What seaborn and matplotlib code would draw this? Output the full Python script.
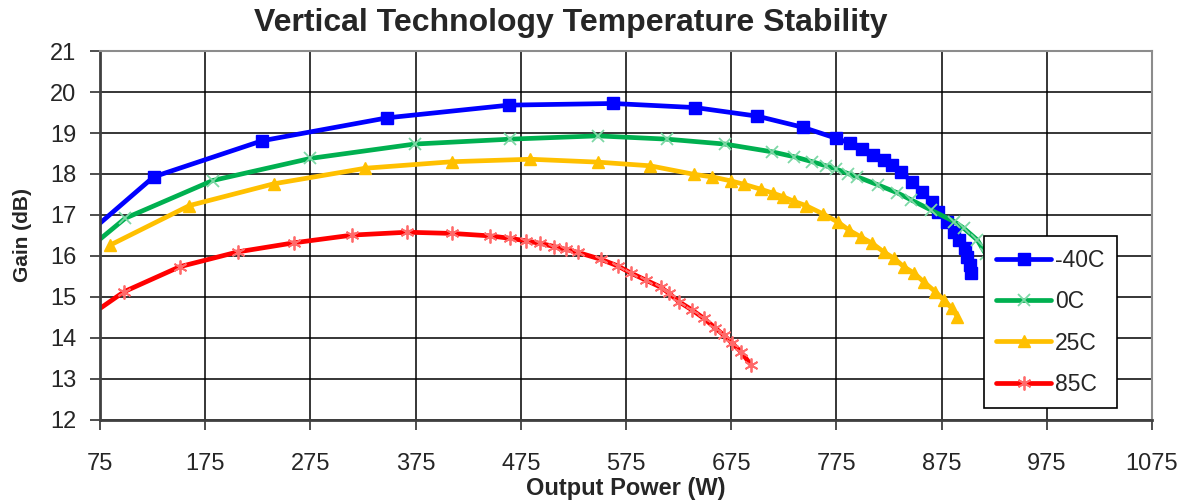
import matplotlib
matplotlib.use("Agg")
import matplotlib.pyplot as plt
import seaborn as sns
import pandas as pd

# ---- data ----
w_m40 = [75, 126, 229, 348, 464, 563, 641, 700, 743, 775, 788, 799, 810, 820, 828, 836,
         847, 856, 866, 872, 880, 887, 892, 897, 899, 902, 903]
g_m40 = [16.8, 17.93, 18.81, 19.37, 19.68, 19.72, 19.62, 19.41, 19.14, 18.87, 18.75, 18.60,
         18.46, 18.34, 18.22, 18.06, 17.81, 17.57, 17.32, 17.08, 16.84, 16.59, 16.39, 16.19,
         15.98, 15.78, 15.58]

w_0 = [75, 99, 182, 275, 374, 465, 548, 614, 669, 714, 735, 752, 765, 775, 786, 795, 815,
       833, 846, 865, 887, 896, 909, 917]
g_0 = [16.41, 16.92, 17.84, 18.38, 18.73, 18.85, 18.93, 18.85, 18.73, 18.54, 18.42, 18.30,
       18.20, 18.12, 18.01, 17.93, 17.73, 17.54, 17.37, 17.12, 16.84, 16.68, 16.39, 16.05]

w_25 = [85, 160, 240, 327, 410, 484, 548, 598, 640, 657, 675, 687, 703, 715, 724, 735, 746,
        762, 777, 787, 798, 809, 820, 830, 839, 849, 858, 869, 877, 885, 890]
g_25 = [16.27, 17.23, 17.76, 18.14, 18.30, 18.36, 18.29, 18.20, 17.99, 17.93, 17.83, 17.75,
        17.63, 17.53, 17.45, 17.33, 17.23, 17.03, 16.82, 16.63, 16.47, 16.31, 16.10, 15.94,
        15.74, 15.58, 15.37, 15.13, 14.93, 14.72, 14.52]

w_85 = [75, 98, 151, 206, 259, 315, 367, 410, 446, 465, 480, 493, 507, 518, 529, 551, 567,
        580, 594, 608, 616, 625, 638, 649, 660, 668, 676, 684, 694]
g_85 = [14.72, 15.13, 15.74, 16.10, 16.32, 16.51, 16.58, 16.55, 16.49, 16.43, 16.37, 16.31,
        16.23, 16.16, 16.09, 15.92, 15.76, 15.58, 15.41, 15.24, 15.09, 14.89, 14.68, 14.48,
        14.24, 14.07, 13.87, 13.67, 13.34]

series_names = ["-40C", "0C", "25C", "85C"]
x_ticks = list(range(75, 1076, 100))
y_ticks = list(range(12, 22))

# ---- style ----
sns.set_style("white")
plt.rcParams["font.family"] = ["Liberation Sans", "DejaVu Sans"]

fig = plt.figure(figsize=(11.86, 5.04), dpi=100)
ax = fig.add_axes([0.0843, 0.1667, 0.8870, 0.7321])

styles = [
    dict(color="#0000FF", marker="s", markersize=8, mfc="#0000FF", mec="#0000FF", mew=1),
    dict(color="#00B050", marker="x", markersize=9, mfc="none", mec="#7ED8A6", mew=1.3),
    dict(color="#FFC000", marker="^", markersize=9, mfc="#FFC000", mec="#FFC000", mew=1),
    dict(color="#FF0000", marker=(6, 2, 0), markersize=10, mfc="none", mec="#FF6A6A", mew=1.3),
]
data = [(w_m40, g_m40, 1), (w_0, g_0, 1), (w_25, g_25, 0), (w_85, g_85, 1)]

for name, (w, g, start), st in zip(series_names, data, styles):
    df = pd.DataFrame({"W": w, "G": g})
    sns.lineplot(data=df, x="W", y="G", ax=ax, sort=False, estimator=None,
                 lw=3.4, label=name, markevery=list(range(start, len(w))),
                 solid_joinstyle="round", **st)

ax.set_xlim(75, 1075)
ax.set_ylim(12, 21)
ax.set_xticks(x_ticks)
ax.set_yticks(y_ticks)
ax.grid(True, color="black", lw=1.1)
ax.set_axisbelow(True)

for side in ["top", "right"]:
    ax.spines[side].set_color("#8C8C8C")
    ax.spines[side].set_linewidth(1.5)
for side in ["left", "bottom"]:
    ax.spines[side].set_color("#404040")
    ax.spines[side].set_linewidth(2)
ax.tick_params(axis="both", direction="out", length=7, width=1.3, color="#404040",
               labelsize=17, bottom=True, left=True)
ax.tick_params(axis="x", pad=17)
ax.tick_params(axis="y", pad=10)

ax.set_xlabel("Output Power (W)", fontsize=17, fontweight="bold", labelpad=1)
ax.set_ylabel("Gain (dB)", fontsize=15, fontweight="bold", labelpad=13)
fig.suptitle("Vertical Technology Temperature Stability", fontsize=23, fontweight="bold",
             x=0.481, y=0.985, va="top")

leg = ax.legend(loc="upper left", bbox_to_anchor=(0.840, 0.498), fontsize=16.5,
                frameon=True, fancybox=False, framealpha=1, edgecolor="black",
                handlelength=2.4, labelspacing=0.8, borderpad=0.55, handletextpad=0.15,
                numpoints=1, borderaxespad=0)
leg.get_frame().set_linewidth(1.2)

fig.savefig("out.png", dpi=100)
